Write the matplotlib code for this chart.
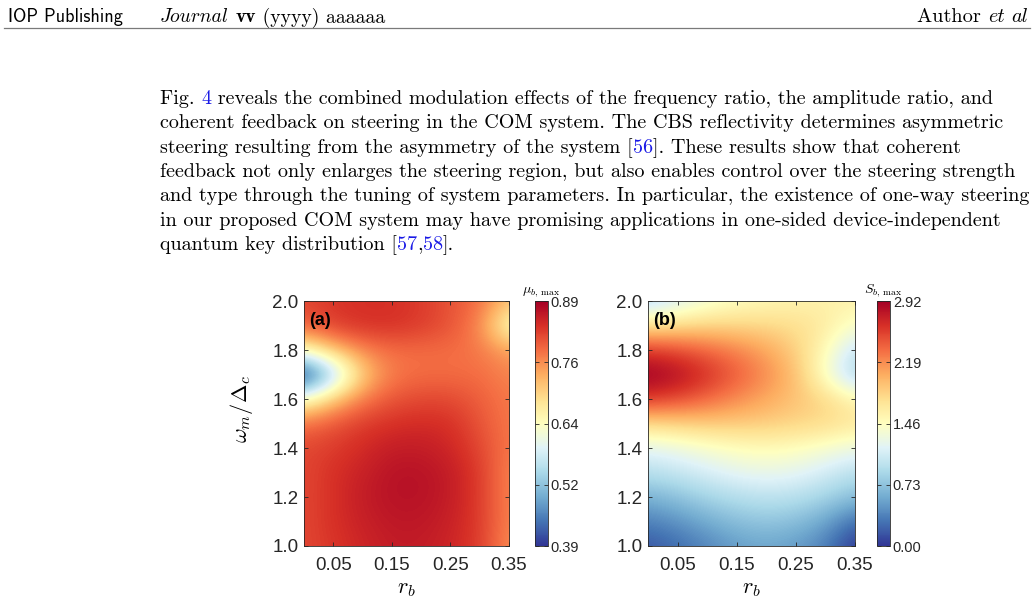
import numpy as np
import matplotlib.pyplot as plt
from matplotlib.lines import Line2D

# grid (rows: omega_m/Delta_c from 1.0 up to 2.0)
r_b = [0.0, 0.05, 0.10, 0.15, 0.20, 0.25, 0.30, 0.35]
omega = [1.0, 1.1, 1.2, 1.3, 1.4, 1.5, 1.6, 1.7, 1.8, 1.9, 2.0]

mu_max = [
    [0.82, 0.835, 0.850, 0.860, 0.860, 0.850, 0.830, 0.76],
    [0.82, 0.840, 0.855, 0.865, 0.865, 0.855, 0.830, 0.77],
    [0.82, 0.840, 0.860, 0.870, 0.870, 0.860, 0.830, 0.77],
    [0.82, 0.840, 0.855, 0.870, 0.870, 0.860, 0.830, 0.77],
    [0.82, 0.830, 0.845, 0.860, 0.860, 0.850, 0.820, 0.78],
    [0.79, 0.810, 0.830, 0.840, 0.845, 0.840, 0.810, 0.78],
    [0.64, 0.720, 0.780, 0.810, 0.820, 0.820, 0.800, 0.78],
    [0.36, 0.530, 0.710, 0.780, 0.790, 0.790, 0.790, 0.77],
    [0.65, 0.720, 0.770, 0.790, 0.790, 0.790, 0.780, 0.75],
    [0.80, 0.830, 0.840, 0.840, 0.830, 0.810, 0.770, 0.63],
    [0.82, 0.835, 0.840, 0.840, 0.830, 0.810, 0.790, 0.72],
]

S_max = [
    [0.15, 0.25, 0.38, 0.50, 0.55, 0.50, 0.35, 0.00],
    [0.35, 0.45, 0.58, 0.70, 0.75, 0.70, 0.55, 0.25],
    [0.62, 0.72, 0.85, 0.93, 0.98, 0.95, 0.85, 0.70],
    [0.95, 1.02, 1.12, 1.22, 1.26, 1.22, 1.10, 0.95],
    [1.20, 1.28, 1.38, 1.46, 1.50, 1.46, 1.38, 1.28],
    [1.78, 1.84, 1.88, 1.88, 1.86, 1.82, 1.78, 1.68],
    [2.60, 2.50, 2.36, 2.20, 2.06, 1.92, 1.80, 1.55],
    [2.95, 2.85, 2.64, 2.42, 2.20, 1.95, 1.40, 0.85],
    [2.60, 2.50, 2.38, 2.24, 2.08, 1.85, 1.50, 1.00],
    [1.72, 1.78, 1.82, 1.82, 1.80, 1.75, 1.65, 1.40],
    [0.92, 1.15, 1.33, 1.45, 1.52, 1.56, 1.58, 1.58],
]

mu_ticks = [0.39, 0.515, 0.64, 0.765, 0.89]
mu_labels = ['0.39', '0.52', '0.64', '0.76', '0.89']
S_ticks = [0.0, 0.73, 1.46, 2.19, 2.92]
S_labels = ['0.00', '0.73', '1.46', '2.19', '2.92']
x_ticks = [0.05, 0.15, 0.25, 0.35]
y_ticks = [1.0, 1.2, 1.4, 1.6, 1.8, 2.0]

paragraph = [
    [("Fig. ", 'k'), ("4", 'b'), (" reveals the combined modulation effects of the frequency ratio, the amplitude ratio, and", 'k')],
    [("coherent feedback on steering in the COM system. The CBS reflectivity determines asymmetric", 'k')],
    [("steering resulting from the asymmetry of the system [", 'k'), ("56", 'b'), ("]. These results show that coherent", 'k')],
    [("feedback not only enlarges the steering region, but also enables control over the steering strength", 'k')],
    [("and type through the tuning of system parameters. In particular, the existence of one-way steering", 'k')],
    [("in our proposed COM system may have promising applications in one-sided device-independent", 'k')],
    [("quantum key distribution [", 'k'), ("57", 'b'), (",", 'k'), ("58", 'b'), ("].", 'k')],
]

W, H = 1034, 606
plt.rcParams['mathtext.fontset'] = 'cm'
fig = plt.figure(figsize=(W / 100, H / 100), dpi=100)
rend = fig.canvas.get_renderer()
BLUE = '#1a1ae6'


def width(s, **kw):
    t = fig.text(0, 0, s + '|', **kw)
    w1 = t.get_window_extent(rend).width
    t.remove()
    t = fig.text(0, 0, '|', **kw)
    w2 = t.get_window_extent(rend).width
    t.remove()
    return w1 - w2


def runs(x, y, parts, size):
    for s, c, fam in parts:
        fig.text(x / W, 1 - y / H, s, color=c, family=fam, size=size, va='baseline')
        x += width(s, family=fam, size=size)
    return x


# page header
runs(8, 22.5, [("IOP Publishing", 'k', 'cmss10')], 13.1)
runs(160, 22.5, [("Journal", 'k', 'cmmi10'), (" ", 'k', 'cmr10'), ("vv", 'k', 'cmb10'),
                 (" (yyyy) aaaaaa", 'k', 'cmr10')], 14.2)
author = [("Author ", 'k', 'cmr10'), ("et", 'k', 'cmmi10'), (" ", 'k', 'cmr10'), ("al", 'k', 'cmmi10')]
w_author = sum(width(s, family=f, size=14.6) for s, c, f in author)
runs(1028 - w_author, 22.5, author, 14.6)
fig.add_artist(Line2D([0.004, 0.996], [1 - 28 / H] * 2, color='#7a7a7a', lw=0.9))

# body text
for i, line in enumerate(paragraph):
    parts = [(s, BLUE if c == 'b' else 'k', 'cmr10') for s, c in line]
    runs(160, 104 + i * 24.35, parts, 14.5)


def panel(x0, x1, cx0, cx1, data, vmin, vmax, ticks, labels, ctitle, tag, ylabel):
    y0, y1 = 301, 546
    ax = fig.add_axes([x0 / W, 1 - y1 / H, (x1 - x0) / W, (y1 - y0) / H])
    cax = fig.add_axes([cx0 / W, 1 - y1 / H, (cx1 - cx0) / W, (y1 - y0) / H])
    dr = r_b[1] - r_b[0]
    dw = omega[1] - omega[0]
    im = ax.imshow(np.array(data), origin='lower', aspect='auto', interpolation='bicubic',
                   cmap='RdYlBu_r', vmin=vmin, vmax=vmax,
                   extent=[r_b[0] - dr / 2, r_b[-1] + dr / 2, omega[0] - dw / 2, omega[-1] + dw / 2])
    ax.set_xlim(r_b[0], r_b[-1])
    ax.set_ylim(omega[0], omega[-1])
    ax.set_xticks(x_ticks)
    ax.set_xticklabels(['%.2f' % v for v in x_ticks])
    ax.set_yticks(y_ticks)
    ax.set_yticklabels(['%.1f' % v for v in y_ticks])
    ax.tick_params(direction='in', length=3, width=0.6, top=True, right=True,
                   labelsize=13.5, colors='#262626', labelcolor='#262626')
    ax.tick_params(axis='x', pad=8)
    ax.tick_params(axis='y', pad=4)
    for t in ax.get_xticklabels() + ax.get_yticklabels():
        t.set_family('Liberation Sans')
    for s in ax.spines.values():
        s.set_color('#262626')
        s.set_linewidth(0.6)
    ax.set_xlabel(r'$r_b$', fontsize=16)
    ax.xaxis.set_label_coords(0.5, -0.135)
    if ylabel:
        ax.set_ylabel(r'$\omega_m/\Delta_c$', fontsize=16)
        ax.yaxis.set_label_coords(-0.24, 0.56)
    ax.text(0.025, 0.955, tag, transform=ax.transAxes, fontsize=13, fontweight='bold',
            family='Liberation Sans', va='top', ha='left')

    cb = fig.colorbar(im, cax=cax)
    cb.set_ticks(ticks)
    cb.set_ticklabels(labels)
    cb.outline.set_edgecolor('#262626')
    cb.outline.set_linewidth(0.6)
    cax.tick_params(direction='in', length=3, width=0.6, left=True, right=True,
                    labelsize=10.5, colors='#262626', pad=2)
    for t in cax.get_yticklabels():
        t.set_family('Liberation Sans')
    cax.set_title(ctitle, fontsize=10, pad=6)


panel(304, 509, 535, 548, mu_max, 0.39, 0.89, mu_ticks, mu_labels,
      r'$\mu_{b,\,\max}$', '(a)', True)
panel(648, 855, 877, 890, S_max, 0.0, 2.92, S_ticks, S_labels,
      r'$S_{b,\,\max}$', '(b)', False)

fig.savefig('out.png', dpi=100)
